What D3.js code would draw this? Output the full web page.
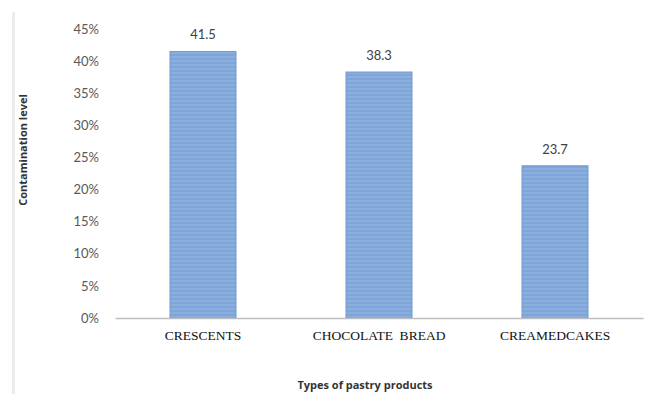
<!DOCTYPE html>
<html>
<head>
<meta charset="utf-8">
<script src="https://cdn.jsdelivr.net/npm/d3@7"></script>
<style>
  body { margin: 0; background: #fff; }
</style>
</head>
<body>
<svg id="chart"></svg>
<script>
// chart data
const categories = ["CRESCENTS", "CHOCOLATE  BREAD", "CREAMEDCAKES"];
const values = [41.5, 38.3, 23.7];
const yTicks = [0, 5, 10, 15, 20, 25, 30, 35, 40, 45];

const width = 646, height = 394;
const margin = {top: 29, right: 3, bottom: 76, left: 115};

const svg = d3.select("#chart")
    .attr("width", width)
    .attr("height", height);

// striped fill like the original bars
const defs = svg.append("defs");
const pat = defs.append("pattern")
    .attr("id", "stripes")
    .attr("patternUnits", "userSpaceOnUse")
    .attr("width", 10)
    .attr("height", 4);
pat.append("rect").attr("width", 10).attr("height", 4).attr("fill", "#8aaedd");
pat.append("rect").attr("y", 2).attr("width", 10).attr("height", 2).attr("fill", "#7fa4d7");

// faint frame line on the left
svg.append("line")
    .attr("x1", 13.5).attr("x2", 13.5)
    .attr("y1", 12).attr("y2", height)
    .attr("stroke", "#ececec")
    .attr("stroke-width", 3);

const x = d3.scaleBand()
    .domain(categories)
    .range([margin.left, width - margin.right])
    .paddingInner(0.625)
    .paddingOuter(0.3125);

const y = d3.scaleLinear()
    .domain([0, 45])
    .range([height - margin.bottom, margin.top]);

// y axis labels (no line)
const yAxis = svg.append("g")
    .attr("transform", `translate(${margin.left}, 0)`)
    .call(d3.axisLeft(y).tickValues(yTicks).tickSize(0).tickPadding(16).tickFormat(d => d + "%"));
yAxis.select(".domain").remove();
yAxis.selectAll("text")
    .attr("fill", "#595959")
    .attr("font-family", "Lato, 'Open Sans', sans-serif")
    .attr("font-size", "13px");

// bars
svg.selectAll(".bar")
    .data(values)
    .enter().append("rect")
    .attr("class", "bar")
    .attr("x", (d, i) => x(categories[i]))
    .attr("y", d => y(d))
    .attr("width", x.bandwidth())
    .attr("height", d => y(0) - y(d))
    .attr("fill", "url(#stripes)")
    .attr("stroke", "#7399cf")
    .attr("stroke-width", 1);

// value labels
svg.selectAll(".val")
    .data(values)
    .enter().append("text")
    .attr("class", "val")
    .attr("x", (d, i) => x(categories[i]) + x.bandwidth() / 2)
    .attr("y", d => y(d) - 12)
    .attr("text-anchor", "middle")
    .attr("fill", "#404040")
    .attr("font-family", "Lato, 'Open Sans', sans-serif")
    .attr("font-size", "13px")
    .text(d => d.toFixed(1));

// x axis
const xAxis = svg.append("g")
    .attr("transform", `translate(0, ${y(0)})`)
    .call(d3.axisBottom(x).tickSize(0).tickPadding(12));
xAxis.select(".domain")
    .attr("stroke", "#bfbfbf")
    .attr("stroke-width", 1.5);
xAxis.selectAll("text")
    .attr("fill", "#111")
    .attr("font-family", "'Liberation Serif', 'Times New Roman', serif")
    .attr("font-size", "13.5px")
    .style("white-space", "pre")
    .attr("xml:space", "preserve");

// axis titles
svg.append("text")
    .attr("transform", `translate(27, 150) rotate(-90)`)
    .attr("text-anchor", "middle")
    .attr("font-family", "'Open Sans', sans-serif")
    .attr("font-weight", "bold")
    .attr("font-size", "11px")
    .attr("fill", "#333")
    .text("Contamination level");

svg.append("text")
    .attr("x", 365)
    .attr("y", 389)
    .attr("text-anchor", "middle")
    .attr("font-family", "'Open Sans', sans-serif")
    .attr("font-weight", "bold")
    .attr("font-size", "11px")
    .attr("fill", "#333")
    .text("Types of pastry products");
</script>
</body>
</html>
